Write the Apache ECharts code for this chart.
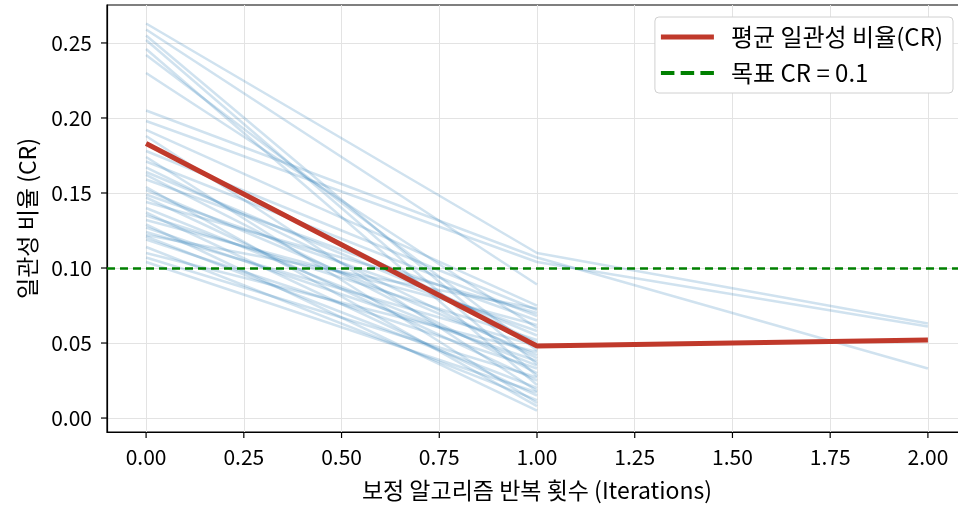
<!DOCTYPE html>
<html>
<head>
<meta charset="utf-8">
<script src="https://cdn.jsdelivr.net/npm/echarts@6/dist/echarts.min.js"></script>
<style>
  html, body { margin: 0; padding: 0; background: #fff; overflow: hidden; }
  /* plot box runs a few px past the right edge, like the cropped figure */
  #chart { width: 968px; height: 509px; }
</style>
</head>
<body>
<div id="chart"></div>
<script>
// iteration steps on x
const iterations = [0, 1, 2];

// per-matrix CR at iteration 0 and 1 (these stop after one pass)
const crStart = [0.259, 0.255, 0.252, 0.246, 0.242, 0.230, 0.192, 0.188, 0.183, 0.178,
    0.174, 0.171, 0.167, 0.164, 0.162, 0.159, 0.154, 0.152, 0.149, 0.147,
    0.144, 0.140, 0.137, 0.135, 0.132, 0.129, 0.127, 0.124, 0.121, 0.119,
    0.114, 0.110, 0.107, 0.104, 0.122];
const crAfter1 = [0.089, 0.036, 0.028, 0.022, 0.045, 0.060, 0.075, 0.018, 0.050, 0.072,
    0.010, 0.068, 0.040, 0.055, 0.030, 0.065, 0.008, 0.042, 0.058, 0.025,
    0.070, 0.035, 0.015, 0.052, 0.062, 0.005, 0.038, 0.048, 0.020, 0.033,
    0.012, 0.044, 0.027, 0.017, 0.073];

// matrices that needed a second pass: CR at iteration 0, 1, 2
const longRuns = [
    [0.263, 0.110, 0.063],
    [0.205, 0.107, 0.033],
    [0.198, 0.104, 0.061]
];

const meanCR = [0.183, 0.048, 0.052];
const targetCR = 0.1;

const xTicks = [0, 0.25, 0.5, 0.75, 1, 1.25, 1.5, 1.75, 2];
const yTicks = [0, 0.05, 0.1, 0.15, 0.2, 0.25];

const X_MIN = -0.1, X_MAX = 2.1;
const Y_MIN = -0.0093, Y_MAX = 0.2753;

const FONT = '"Noto Sans CJK KR", "Noto Sans", sans-serif';
const blue = 'rgba(31,119,180,0.21)';
const RED = '#c0392b';
const GREEN = '#008000';

const series = [];
crStart.forEach((v, i) => {
    series.push({
        name: 'm' + i,
        type: 'line',
        data: [[iterations[0], v], [iterations[1], crAfter1[i]]],
        showSymbol: false,
        symbol: 'none',
        silent: true,
        z: 1,
        lineStyle: { color: blue, width: 2.5 }
    });
});
longRuns.forEach((run, i) => {
    series.push({
        name: 'l' + i,
        type: 'line',
        data: run.map((v, j) => [iterations[j], v]),
        showSymbol: false,
        symbol: 'none',
        silent: true,
        z: 1,
        lineStyle: { color: blue, width: 2.5 }
    });
});
series.push({
    name: '목표 CR = 0.1',
    type: 'line',
    data: [],
    symbol: 'none',
    z: 3,
    lineStyle: { color: GREEN, width: 2.5, type: [8, 5] },
    itemStyle: { color: GREEN },
    markLine: {
        silent: true,
        symbol: 'none',
        label: { show: false },
        lineStyle: { color: GREEN, width: 2.5, type: [8, 5] },
        data: [{ yAxis: targetCR }]
    }
});
series.push({
    name: '평균 일관성 비율(CR)',
    type: 'line',
    data: meanCR.map((v, j) => [iterations[j], v]),
    showSymbol: false,
    symbol: 'none',
    z: 4,
    lineStyle: { color: RED, width: 5 },
    itemStyle: { color: RED }
});

// outward tick marks on both axes
series.push({
    name: 'xticks',
    type: 'custom',
    silent: true,
    clip: false,
    data: xTicks.map(v => [v]),
    renderItem: (params, api) => {
        const p = api.coord([api.value(0), Y_MIN]);
        return { type: 'line', shape: { x1: p[0], y1: p[1], x2: p[0], y2: p[1] + 6 },
            style: { stroke: '#000', lineWidth: 1.2 } };
    }
});
series.push({
    name: 'yticks',
    type: 'custom',
    silent: true,
    clip: false,
    data: yTicks.map(v => [v]),
    renderItem: (params, api) => {
        const p = api.coord([X_MIN, api.value(0)]);
        return { type: 'line', shape: { x1: p[0] - 6, y1: p[1], x2: p[0], y2: p[1] },
            style: { stroke: '#000', lineWidth: 1.2 } };
    }
});

const chart = echarts.init(document.getElementById('chart'), null, { renderer: 'canvas' });
chart.setOption({
    animation: false,
    backgroundColor: '#fff',
    textStyle: { fontFamily: FONT },
    grid: {
        left: 107, right: 1, top: 5, bottom: 77,
        show: true, borderColor: '#000', borderWidth: 1.2
    },
    legend: {
        data: [
            { name: '평균 일관성 비율(CR)', icon: 'rect', itemStyle: { color: RED } },
            { name: '목표 CR = 0.1', icon: 'path://M0,0H13V4H0ZM19,0H32V4H19ZM38,0H51V4H38Z', itemStyle: { color: GREEN } }
        ],
        orient: 'vertical',
        right: 15,
        top: 17,
        itemWidth: 53,
        itemHeight: 5,
        itemGap: 10,
        padding: [7, 10, 7, 6],
        backgroundColor: '#fff',
        borderColor: '#d0d0d0',
        borderWidth: 1,
        borderRadius: 4,
        textStyle: { fontSize: 24, color: '#000', fontFamily: FONT, lineHeight: 26, padding: [0, 0, 0, 12] }
    },
    xAxis: {
        type: 'value',
        min: X_MIN,
        max: X_MAX,
        name: '보정 알고리즘 반복 횟수 (Iterations)',
        nameLocation: 'middle',
        nameGap: 47,
        nameTextStyle: { fontSize: 23, color: '#000' },
        axisLine: { show: true, onZero: false, lineStyle: { color: '#000', width: 1.2 } },
        axisTick: { show: false, customValues: xTicks },
        axisLabel: {
            color: '#000', fontSize: 21, margin: 15, customValues: xTicks,
            formatter: v => v.toFixed(2)
        },
        splitLine: { show: true, lineStyle: { color: '#e3e3e3', width: 1 } }
    },
    yAxis: {
        type: 'value',
        min: Y_MIN,
        max: Y_MAX,
        name: '일관성 비율 (CR)',
        nameLocation: 'middle',
        nameRotate: 90,
        nameGap: 68,
        nameTextStyle: { fontSize: 23, color: '#000' },
        axisLine: { show: true, onZero: false, lineStyle: { color: '#000', width: 1.2 } },
        axisTick: { show: false, customValues: yTicks },
        axisLabel: {
            color: '#000', fontSize: 21, margin: 15, customValues: yTicks,
            formatter: v => v.toFixed(2)
        },
        splitLine: { show: true, lineStyle: { color: '#e3e3e3', width: 1 } }
    },
    series: series
});
</script>
</body>
</html>
